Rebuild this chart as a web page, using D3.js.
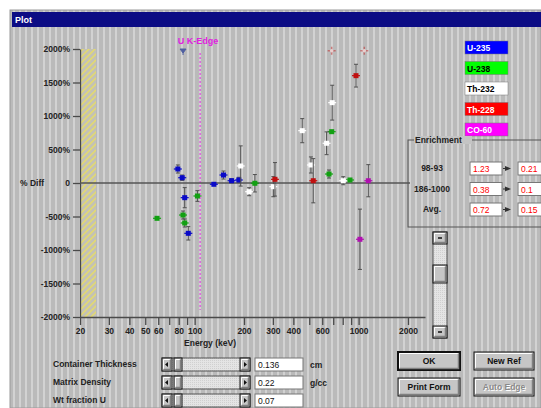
<!DOCTYPE html>
<html>
<head>
<meta charset="utf-8">
<script src="https://cdn.jsdelivr.net/npm/d3@7"></script>
<style>
  body { margin: 0; background: #fff; }
  text { font-family: "Liberation Sans", Arial, sans-serif; }
</style>
</head>
<body>
<svg id="svg1"></svg>
<script>
// chart data
const u235Energy = [79, 84, 87, 91.5, 131, 150, 168, 186];
const u235Diff   = [209, 79, -219, -751, -19, 119, 34, 45];
const u235Err    = [60, 40, 150, 100, 0, 60, 30, 40];

const u238Energy = [59, 85, 87, 104, 233, 660, 685, 886];
const u238Diff   = [-527, -478, -597, -194, -4, 134, 766, 45];
const u238Err    = [0, 60, 60, 80, 130, 60, 0, 0];

const th232Energy = [191, 215, 302, 453, 512, 638, 690, 806];
const th232Diff   = [254, -130, -55, 781, 269, 593, 1199, 34];
const th232Err    = [300, 60, 150, 180, 120, 170, 260, 60];

const th228Energy = [309, 529, 964, 685, 1083];
const th228Diff   = [55, 34, 1602, 1975, 1975];
const th228Err    = [250, 330, 170, 0, 0];

const co60Energy = [1146, 1019];
const co60Diff   = [34, -840];
const co60Err    = [240, 450];

const offscaleEnergy = [85];   // U-235 point above the top of the scale

const seriesNames  = ["U-235", "U-238", "Th-232", "Th-228", "CO-60"];
const xTickValues  = [20, 30, 40, 50, 60, 70, 80, 90, 100, 200, 300, 400, 500, 600, 700, 800, 900, 1000, 2000];
const xTickLabels  = [20, 30, 40, 50, 60, 80, 100, 200, 300, 400, 600, 1000, 2000];
const yTickValues  = [2000, 1500, 1000, 500, 0, -500, -1000, -1500, -2000];
const kEdge = 108;

const enrichRows   = ["98-93", "186-1000", "Avg."];
const enrichFrom   = ["1.23", "0.38", "0.72"];
const enrichTo     = ["0.21", "0.1", "0.15"];

const sliderLabels = ["Container Thickness", "Matrix Density", "Wt fraction U"];
const sliderValues = ["0.136", "0.22", "0.07"];
const sliderUnits  = ["cm", "g/cc", ""];

// layout
const W = 541, H = 408;
const svg = d3.select('#svg1').attr('width', W).attr('height', H);
const defs = svg.append('defs');

const stripes = defs.append('pattern').attr('id', 'stripes')
    .attr('patternUnits', 'userSpaceOnUse').attr('width', 6).attr('height', 6);
stripes.append('rect').attr('width', 6).attr('height', 6).attr('fill', '#bababa');
stripes.append('rect').attr('x', 1).attr('width', 2).attr('height', 6).attr('fill', '#d2d2d2');

const hatch = defs.append('pattern').attr('id', 'hatch')
    .attr('patternUnits', 'userSpaceOnUse').attr('width', 6).attr('height', 6);
hatch.append('rect').attr('width', 6).attr('height', 6).attr('fill', '#c4c2b4');
hatch.append('path').attr('d', 'M-1,1 l2,-2 M0,6 l6,-6 M5,7 l2,-2')
    .attr('stroke', '#e6dc6a').attr('stroke-width', 1.4);

const dither = defs.append('pattern').attr('id', 'dither')
    .attr('patternUnits', 'userSpaceOnUse').attr('width', 2).attr('height', 2);
dither.append('rect').attr('width', 2).attr('height', 2).attr('fill', '#e4e4e4');
dither.append('rect').attr('width', 1).attr('height', 1).attr('fill', '#d0d0d0');

// window
svg.append('rect').attr('x', 10).attr('y', 10).attr('width', W - 10).attr('height', H - 10)
    .attr('fill', 'url(#stripes)').attr('stroke', '#9a9a9a');
svg.append('rect').attr('x', 12).attr('y', 12).attr('width', W - 12).attr('height', 15).attr('fill', '#0c0c84');
svg.append('text').attr('x', 15).attr('y', 23).attr('fill', '#fff')
    .attr('font-size', 9).attr('font-weight', 'bold').text('Plot');

// scales
const x = d3.scaleLog().domain([20, 2540]).range([80, 425]);
const y = d3.scaleLinear().domain([-2000, 2000]).range([317, 49]);

// hatched region left of the data
svg.append('rect').attr('x', x(20)).attr('y', y(2000)).attr('width', 16).attr('height', y(-2000) - y(2000))
    .attr('fill', 'url(#hatch)');

// axes
const yAxis = svg.append('g').attr('transform', 'translate(' + x(20) + ',0)')
    .call(d3.axisLeft(y).tickValues(yTickValues).tickSize(7).tickSizeOuter(0).tickPadding(3)
      .tickFormat(d => d === 0 ? '0' : d + '%'));
const xAxis = svg.append('g').attr('transform', 'translate(0,' + y(-2000) + ')')
    .call(d3.axisBottom(x).tickValues(xTickValues).tickSize(8).tickSizeOuter(0).tickPadding(3)
      .tickFormat(d => xTickLabels.includes(d) ? d : ''));
[xAxis, yAxis].forEach(g => {
  g.selectAll('path,line').attr('stroke', '#4a4a4a').attr('stroke-width', 1.3);
  g.selectAll('text').attr('fill', '#222').attr('font-size', 8.5).attr('font-weight', 'bold')
    .attr('font-family', '"Liberation Sans", Arial, sans-serif');
});
svg.append('text').attr('x', 20).attr('y', y(0) + 3).attr('font-size', 8.5).attr('font-weight', 'bold')
    .attr('fill', '#222').text('% Diff');
svg.append('text').attr('x', 210).attr('y', 346).attr('text-anchor', 'middle').attr('font-size', 8.5)
    .attr('font-weight', 'bold').attr('fill', '#222').text('Energy (keV)');

// K-edge marker
svg.append('line').attr('x1', x(kEdge)).attr('x2', x(kEdge)).attr('y1', 53).attr('y2', 310)
    .attr('stroke', '#e040e0').attr('stroke-width', 1.2).attr('stroke-dasharray', '2,2');
svg.append('text').attr('x', x(kEdge) - 2).attr('y', 44).attr('text-anchor', 'middle')
    .attr('font-size', 9).attr('font-weight', 'bold').attr('fill', '#e020e0').text('U K-Edge');

// zero line
svg.append('line').attr('x1', x(20)).attr('x2', 410).attr('y1', y(0)).attr('y2', y(0))
    .attr('stroke', '#555').attr('stroke-width', 1.6);

// points
const series = [
  {name: 'U-235', col: '#0a0ac8', e: u235Energy, d: u235Diff, err: u235Err},
  {name: 'U-238', col: '#12a012', e: u238Energy, d: u238Diff, err: u238Err},
  {name: 'Th-232', col: '#ffffff', e: th232Energy, d: th232Diff, err: th232Err},
  {name: 'Th-228', col: '#c01010', e: th228Energy, d: th228Diff, err: th228Err},
  {name: 'CO-60', col: '#b010b0', e: co60Energy, d: co60Diff, err: co60Err}
];
series.forEach(s => {
  const pts = s.e.map((e, i) => ({e: e, d: s.d[i], err: s.err[i]}));
  const inside = pts.filter(p => p.d < 1950);
  const edge = pts.filter(p => p.d >= 1950);
  const g = svg.append('g');
  const eb = g.selectAll('g.eb').data(inside.filter(p => p.err > 0)).enter().append('g')
      .attr('stroke', '#505050').attr('stroke-width', 1);
  eb.append('line').attr('x1', p => x(p.e)).attr('x2', p => x(p.e))
      .attr('y1', p => y(p.d + p.err)).attr('y2', p => y(p.d - p.err));
  eb.append('line').attr('x1', p => x(p.e) - 2).attr('x2', p => x(p.e) + 2)
      .attr('y1', p => y(p.d + p.err)).attr('y2', p => y(p.d + p.err));
  eb.append('line').attr('x1', p => x(p.e) - 2).attr('x2', p => x(p.e) + 2)
      .attr('y1', p => y(p.d - p.err)).attr('y2', p => y(p.d - p.err));
  g.selectAll('line.h').data(inside).enter().append('line')
      .attr('x1', p => x(p.e) - 4).attr('x2', p => x(p.e) + 4)
      .attr('y1', p => y(p.d)).attr('y2', p => y(p.d)).attr('stroke', s.col).attr('stroke-width', 1.2);
  g.selectAll('rect').data(inside).enter().append('rect')
      .attr('x', p => x(p.e) - 2.5).attr('y', p => y(p.d) - 2.5).attr('width', 5).attr('height', 5)
      .attr('fill', s.col);
  // points sitting on the top edge are drawn as faint crosses
  g.selectAll('path.edge').data(edge).enter().append('path')
      .attr('d', p => 'M' + (x(p.e) - 4) + ',' + y(p.d) + ' h8 M' + x(p.e) + ',' + (y(p.d) - 4) + ' v8')
      .attr('stroke', s.col).attr('stroke-opacity', 0.45).attr('stroke-width', 1.5);
  g.selectAll('circle.edge').data(edge).enter().append('circle')
      .attr('cx', p => x(p.e)).attr('cy', p => y(p.d)).attr('r', 1.8)
      .attr('fill', '#e8d0d0');
});
svg.selectAll('path.off').data(offscaleEnergy).enter().append('path')
    .attr('d', e => 'M' + (x(e) - 3) + ',49 h6 l-3,4 z M' + x(e) + ',51 v4')
    .attr('fill', '#5060a0').attr('stroke', '#5060a0').attr('stroke-width', 1);

// legend
const legCols = [['#0000ff', '#fff'], ['#00ff00', '#000'], ['#ffffff', '#000'], ['#ff0000', '#fff'], ['#ff00ff', '#fff']];
seriesNames.forEach((n, i) => {
  svg.append('rect').attr('x', 465).attr('y', 41 + i * 20.5).attr('width', 43).attr('height', 13)
      .attr('fill', legCols[i][0]).attr('stroke', '#777').attr('stroke-width', 0.5);
  svg.append('text').attr('x', 467).attr('y', 51 + i * 20.5).attr('font-size', 8.5).attr('font-weight', 'bold')
      .attr('fill', legCols[i][1]).text(n);
});

// helpers for the controls
function sunken(x0, y0, w, h) {
  svg.append('rect').attr('x', x0).attr('y', y0).attr('width', w).attr('height', h)
      .attr('fill', '#fff').attr('stroke', '#777');
}
function button(x0, y0, w, h, label, opts) {
  opts = opts || {};
  svg.append('rect').attr('x', x0).attr('y', y0).attr('width', w).attr('height', h)
      .attr('fill', '#c6c6c6').attr('stroke', '#111').attr('stroke-width', opts.def ? 2 : 1);
  svg.append('path').attr('d', 'M' + (x0 + 1.5) + ',' + (y0 + h - 2) + ' V' + (y0 + 1.5) + ' H' + (x0 + w - 2))
      .attr('fill', 'none').attr('stroke', '#fff').attr('stroke-width', 1);
  svg.append('path').attr('d', 'M' + (x0 + 1.5) + ',' + (y0 + h - 1.5) + ' H' + (x0 + w - 1.5) + ' V' + (y0 + 1.5))
      .attr('fill', 'none').attr('stroke', '#808080').attr('stroke-width', 1.5);
  if (label) {
    if (opts.disabled) {
      svg.append('text').attr('x', x0 + w / 2 + 1).attr('y', y0 + h / 2 + 4).attr('text-anchor', 'middle')
          .attr('font-size', 8.5).attr('font-weight', 'bold').attr('fill', '#fff').text(label);
    }
    svg.append('text').attr('x', x0 + w / 2).attr('y', y0 + h / 2 + 3).attr('text-anchor', 'middle')
        .attr('font-size', 8.5).attr('font-weight', 'bold').attr('fill', opts.disabled ? '#8a8a8a' : '#111').text(label);
  }
}

// enrichment group box
svg.append('rect').attr('x', 408).attr('y', 140).attr('width', 140).attr('height', 87)
    .attr('fill', 'none').attr('stroke', '#555');
svg.append('rect').attr('x', 414).attr('y', 136).attr('width', 58).attr('height', 8).attr('fill', '#c4c4c4');
svg.append('text').attr('x', 415).attr('y', 143).attr('font-size', 8.5).attr('font-weight', 'bold')
    .attr('fill', '#222').text('Enrichment');
enrichRows.forEach((r, i) => {
  const yy = 162 + i * 20.5;
  svg.append('text').attr('x', 432).attr('y', yy + 9).attr('text-anchor', 'middle').attr('font-size', 8.5)
      .attr('font-weight', 'bold').attr('fill', '#222').text(r);
  sunken(470, yy, 32, 13);
  svg.append('text').attr('x', 473).attr('y', yy + 10).attr('font-size', 8.5).attr('fill', '#f00').text(enrichFrom[i]);
  svg.append('path').attr('d', 'M505,' + (yy + 4) + ' l6,2.5 l-6,2.5 z').attr('fill', '#333');
  svg.append('line').attr('x1', 503).attr('x2', 506).attr('y1', yy + 6.5).attr('y2', yy + 6.5).attr('stroke', '#333');
  sunken(518, yy, 32, 13);
  svg.append('text').attr('x', 521).attr('y', yy + 10).attr('font-size', 8.5).attr('fill', '#f00').text(enrichTo[i]);
});

// vertical scroll bar
svg.append('rect').attr('x', 433).attr('y', 232).attr('width', 14).attr('height', 106)
    .attr('fill', 'url(#dither)').attr('stroke', '#555');
button(433, 232, 14, 12, '');
svg.append('line').attr('x1', 438).attr('x2', 442).attr('y1', 238).attr('y2', 238).attr('stroke', '#111').attr('stroke-width', 1.5);
button(433, 265, 14, 18, '');
button(433, 326, 14, 12, '');
svg.append('line').attr('x1', 438).attr('x2', 442).attr('y1', 332).attr('y2', 332).attr('stroke', '#111').attr('stroke-width', 1.5);

// sliders
sliderLabels.forEach((lab, i) => {
  const yy = 358 + i * 18;
  svg.append('text').attr('x', 53).attr('y', yy + 9).attr('font-size', 8.5).attr('font-weight', 'bold')
      .attr('fill', '#222').text(lab);
  svg.append('rect').attr('x', 162).attr('y', yy).attr('width', 88).attr('height', 13)
      .attr('fill', 'url(#dither)').attr('stroke', '#555');
  button(162, yy, 10, 13, '');
  svg.append('path').attr('d', 'M168,' + (yy + 4) + ' l-3,2.5 l3,2.5 z').attr('fill', '#111');
  button(174, yy, 8, 13, '');
  button(240, yy, 10, 13, '');
  svg.append('path').attr('d', 'M244,' + (yy + 4) + ' l3,2.5 l-3,2.5 z').attr('fill', '#111');
  sunken(255, yy, 48, 13);
  svg.append('text').attr('x', 258).attr('y', yy + 10).attr('font-size', 8.5).attr('fill', '#111').text(sliderValues[i]);
  if (sliderUnits[i]) {
    svg.append('text').attr('x', 310).attr('y', yy + 10).attr('font-size', 8.5).attr('font-weight', 'bold')
        .attr('fill', '#222').text(sliderUnits[i]);
  }
});

// buttons
button(398, 352, 62, 18, 'OK', {def: true});
button(398, 378, 62, 18, 'Print Form');
button(474, 352, 60, 18, 'New Ref');
button(474, 378, 60, 18, 'Auto Edge', {disabled: true});
</script>
</body>
</html>
